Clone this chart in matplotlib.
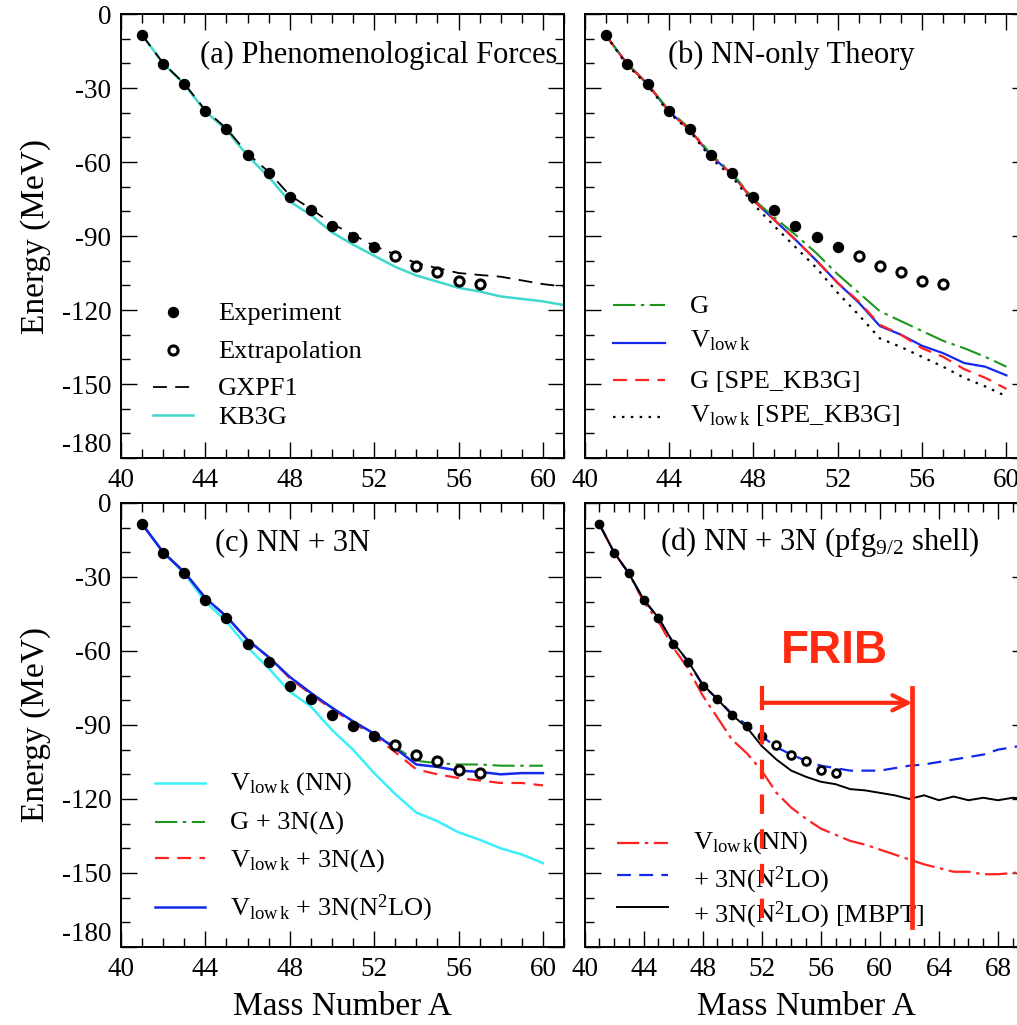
import numpy as np
import matplotlib
matplotlib.use("Agg")
import matplotlib.pyplot as plt
from matplotlib.ticker import MultipleLocator, FixedLocator

plt.rcParams.update({
    "font.family": "serif",
    "font.serif": ["Liberation Serif", "DejaVu Serif"],
    "mathtext.fontset": "custom",
    "mathtext.rm": "Liberation Serif",
    "mathtext.it": "Liberation Serif:italic",
    "mathtext.bf": "Liberation Serif:bold",
    "axes.unicode_minus": False,
    "lines.scale_dashes": False,
})

# ---------------- data ----------------
A_exp = np.arange(41, 53)
E_exp = [-8.5, -20.2, -28.4, -39.3, -46.6, -57.0, -64.4, -74.2, -79.5, -85.9, -90.3, -94.6]
A_extrap = np.arange(53, 58)
E_extrap = [-98.1, -102.2, -104.5, -108.1, -109.6]

# (a) phenomenological interactions
A_a = np.arange(41, 62)
E_gxpf1 = [-8.5, -20.0, -28.2, -39.0, -46.4, -56.6, -64.0, -73.5, -79.0, -85.0, -89.5,
           -94.0, -97.5, -101.0, -103.0, -105.0, -105.8, -106.5, -108.0, -109.5, -110.5]
E_kb3g = [-8.5, -20.0, -28.5, -39.5, -47.0, -57.5, -66.0, -76.0, -81.5, -88.5, -93.5,
          -98.0, -102.5, -106.0, -108.5, -111.0, -112.5, -114.5, -115.5, -116.5, -118.0]

# (b) NN-only theory
A_b = np.arange(41, 61)
E_G = [-8.5, -20.0, -28.5, -39.0, -46.5, -57.0, -64.5, -75.0, -82.5, -89.5,
       -97.0, -105.5, -113.0, -120.5, -124.5, -128.5, -132.5, -135.5, -139.0, -143.0]
E_vlowk = [-8.5, -20.0, -28.5, -39.5, -47.0, -57.5, -65.0, -75.5, -83.5, -91.5,
           -100.0, -109.0, -117.0, -126.5, -130.0, -134.5, -137.5, -141.5, -143.0, -146.5]
E_G_spe = [-8.5, -20.0, -28.5, -39.5, -47.0, -57.5, -65.0, -75.5, -83.5, -91.5,
           -100.0, -109.0, -116.5, -126.0, -130.0, -135.5, -139.0, -144.0, -147.5, -152.0]
E_vlowk_spe = [-8.5, -20.5, -29.0, -40.0, -47.5, -58.5, -66.0, -77.0, -86.0, -94.5,
               -103.0, -113.0, -122.0, -131.5, -135.0, -139.0, -143.0, -147.5, -151.0, -155.0]

# (c) NN + 3N
A_c = np.arange(41, 61)
E_c_nn = [-8.5, -20.0, -28.5, -40.0, -48.0, -58.5, -67.0, -76.5, -82.5, -92.0,
          -100.0, -109.5, -118.0, -125.5, -129.0, -133.5, -136.5, -140.0, -142.5, -146.0]
E_c_G3N = [-8.5, -20.0, -28.0, -38.5, -46.0, -55.5, -62.5, -70.5, -77.0, -83.0,
           -88.5, -93.5, -99.0, -104.5, -105.5, -106.0, -106.0, -106.5, -106.5, -106.5]
E_c_V3N_delta = [-8.5, -20.0, -28.0, -38.5, -46.0, -55.5, -62.5, -71.0, -77.5, -83.5,
                 -89.0, -94.5, -101.0, -108.0, -110.0, -111.5, -112.5, -113.5, -113.5, -114.5]
E_c_V3N_n2lo = [-8.5, -20.0, -28.0, -38.5, -46.0, -55.5, -62.5, -70.5, -77.0, -83.0,
                -88.5, -93.5, -99.5, -106.0, -107.0, -108.5, -109.0, -110.0, -109.5, -109.5]

# (d) NN + 3N in the extended pfg9/2 space
A_d = np.arange(41, 71)
E_d_nn = [-8.5, -20.0, -28.5, -40.0, -48.0, -58.5, -67.0, -78.0, -87.0, -96.0,
          -101.5, -108.5, -117.5, -123.5, -128.0, -132.0, -134.5, -137.0, -138.5, -140.5,
          -142.5, -144.5, -146.5, -148.0, -149.5, -149.5, -150.5, -150.5, -150.0, -149.5]
E_d_3n = [-8.5, -20.0, -28.5, -39.3, -46.5, -56.8, -64.2, -73.8, -79.5, -85.5,
          -90.0, -94.5, -99.0, -102.0, -104.5, -106.5, -107.5, -108.5, -108.5, -108.5,
          -107.5, -106.5, -106.0, -105.0, -104.0, -103.0, -102.0, -100.0, -99.0, -98.0]
E_d_mbpt = [-8.5, -20.0, -28.5, -39.0, -46.5, -56.5, -64.0, -73.5, -79.5, -86.0,
            -91.0, -98.5, -104.0, -108.5, -111.0, -113.0, -114.0, -116.0, -116.5, -117.5,
            -118.5, -120.0, -118.5, -120.5, -119.0, -120.5, -119.5, -120.5, -119.5, -120.0]

# FRIB reach (mass numbers) and bracket heights (MeV)
FRIB_A = (52, 62.2)
FRIB_Y_ARROW = -81
FRIB_Y_TOP = -75
FRIB_Y_DASH_TOP = -90
FRIB_Y_BOTTOM = -172

xticks = [40, 44, 48, 52, 56, 60]
xticks_d = [40, 44, 48, 52, 56, 60, 64, 68]
yticks = [0, -30, -60, -90, -120, -150, -180]

# ---------------- styles ----------------
TURQ = "#40d8cc"
CYAN = "#3cf0fa"
GREEN = "#1e961e"
BLUE = "#1428ee"
RED = "#ff2222"
FRIB_RED = "#ff2a10"
DASH = (0, (10, 6))
DASHDOT = (0, (16, 4, 2.5, 4))
DOT = (0, (1.8, 4.6))

W, H = 1017, 1025
AX_W, AX_H = 443, 444
fig = plt.figure(figsize=(W / 100, H / 100), dpi=100)

panels = {}


def add_panel(key, left, top):
    ax = fig.add_axes([left / W, 1 - (top + AX_H) / H, AX_W / W, AX_H / H])
    panels[key] = (ax, left, top)
    return ax


def to_axes(key, x, y):
    _, left, top = panels[key]
    return (x - left) / AX_W, 1 - (y - top) / AX_H


def style_axes(ax, xmax, ticks, ylabels):
    ax.set_xlim(40, xmax)
    ax.set_ylim(-180, 0)
    ax.xaxis.set_major_locator(FixedLocator(ticks))
    ax.xaxis.set_minor_locator(MultipleLocator(1))
    ax.yaxis.set_major_locator(FixedLocator(yticks))
    ax.yaxis.set_minor_locator(MultipleLocator(10))
    ax.tick_params(which="both", direction="in", top=True, right=True, width=1.0,
                   labelsize=19.5, pad=7)
    ax.tick_params(which="major", length=11.5)
    ax.tick_params(which="minor", length=6.5)
    for s in ax.spines.values():
        s.set_linewidth(1.4)
    ax.set_xticklabels([str(t) for t in ticks])
    if ylabels:
        ax.set_yticklabels([str(t) for t in yticks])
        ax.get_yticklabels()[-1].set_va("bottom")
        ax.set_ylabel("Energy (MeV)", fontsize=24, labelpad=8)
    else:
        ax.tick_params(labelleft=False)


def legend_line(key, x0, x1, y, **kw):
    ax = panels[key][0]
    (fx0, fy), (fx1, _) = to_axes(key, x0, y), to_axes(key, x1, y)
    ax.plot([fx0, fx1], [fy, fy], transform=ax.transAxes, clip_on=False, **kw)


def legend_marker(key, x, y, **kw):
    ax = panels[key][0]
    fx, fy = to_axes(key, x, y)
    ax.plot([fx], [fy], transform=ax.transAxes, clip_on=False, **kw)


def panel_text(key, x, y, s, size=19, **kw):
    ax = panels[key][0]
    fx, fy = to_axes(key, x, y)
    ax.text(fx, fy, s, transform=ax.transAxes, fontsize=size, ha="left",
            va="baseline", **kw)


VLK = r"V$_{\rm low\,k}$"
exp_kw = dict(ls="none", marker="o", color="black", ms=7.2, zorder=5)
ext_kw = dict(ls="none", marker="o", mfc="white", mec="black", mew=2.2, ms=6.6, zorder=5)

# ---------------- (a) ----------------
ax = add_panel("a", 121, 14)
ax.plot(A_a, E_gxpf1, color="black", lw=1.3, ls=DASH, zorder=3)
ax.plot(A_a, E_kb3g, color=TURQ, lw=1.8, zorder=2)
ax.plot(A_exp, E_exp, **exp_kw)
ax.plot(A_extrap, E_extrap, **ext_kw)
style_axes(ax, 61, xticks, True)
panel_text("a", 200, 63, "(a) Phenomenological Forces", size=22)
legend_marker("a", 173, 312, marker="o", color="black", ms=7.2)
legend_marker("a", 173, 350, marker="o", mfc="white", mec="black", mew=2.2, ms=6.6)
legend_line("a", 153, 193, 387, color="black", lw=1.3, ls=DASH)
legend_line("a", 153, 193, 415, color=TURQ, lw=1.8)
panel_text("a", 218, 320, "Experiment")
panel_text("a", 218, 358, "Extrapolation")
panel_text("a", 218, 395, "GXPF1")
panel_text("a", 218, 424, "KB3G")

# ---------------- (b) ----------------
ax = add_panel("b", 584.5, 14)
ax.plot(A_b, E_G, color=GREEN, lw=1.5, ls=DASHDOT, zorder=3)
ax.plot(A_b, E_vlowk, color=BLUE, lw=1.6, zorder=2)
ax.plot(A_b, E_G_spe, color=RED, lw=1.6, ls=DASH, zorder=3)
ax.plot(A_b, E_vlowk_spe, color="black", lw=1.6, ls=DOT, zorder=3)
ax.plot(A_exp, E_exp, **exp_kw)
ax.plot(A_extrap, E_extrap, **ext_kw)
style_axes(ax, 61, xticks, False)
panel_text("b", 668, 63, "(b) NN-only Theory", size=22)
legend_line("b", 613, 665, 305, color=GREEN, lw=1.5, ls=DASHDOT)
legend_line("b", 613, 665, 343, color=BLUE, lw=1.6)
legend_line("b", 613, 665, 380, color=RED, lw=1.6, ls=DASH)
legend_line("b", 613, 665, 417, color="black", lw=1.6, ls=DOT)
panel_text("b", 690, 313, "G")
panel_text("b", 690, 347, VLK)
panel_text("b", 690, 388, "G [SPE_KB3G]")
panel_text("b", 690, 422, VLK + " [SPE_KB3G]")

# ---------------- (c) ----------------
ax = add_panel("c", 121, 503)
ax.plot(A_c, E_c_nn, color=CYAN, lw=1.8, zorder=2)
ax.plot(A_c, E_c_G3N, color=GREEN, lw=1.5, ls=DASHDOT, zorder=3)
ax.plot(A_c, E_c_V3N_delta, color=RED, lw=1.6, ls=DASH, zorder=3)
ax.plot(A_c, E_c_V3N_n2lo, color=BLUE, lw=1.8, zorder=4)
ax.plot(A_exp, E_exp, **exp_kw)
ax.plot(A_extrap, E_extrap, **ext_kw)
style_axes(ax, 61, xticks, True)
ax.set_xlabel("Mass Number A", fontsize=24, labelpad=7)
panel_text("c", 215, 550, "(c) NN + 3N", size=22)
legend_line("c", 155, 205, 783, color=CYAN, lw=1.8)
legend_line("c", 155, 205, 822, color=GREEN, lw=1.5, ls=DASHDOT)
legend_line("c", 155, 205, 858, color=RED, lw=1.6, ls=DASH)
legend_line("c", 155, 205, 907, color=BLUE, lw=1.8)
panel_text("c", 230, 790, VLK + " (NN)")
panel_text("c", 230, 830, "G + 3N(Δ)")
panel_text("c", 230, 867, VLK + " + 3N(Δ)")
panel_text("c", 230, 915, VLK + r" + 3N(N$^2$LO)")

# ---------------- (d) ----------------
ax = add_panel("d", 584.5, 503)
ax.plot(A_d, E_d_nn, color=RED, lw=1.6, ls=DASHDOT, zorder=3)
ax.plot(A_d, E_d_3n, color=BLUE, lw=1.6, ls=DASH, zorder=3)
ax.plot(A_d, E_d_mbpt, color="black", lw=1.4, zorder=3)
ax.plot(A_exp, E_exp, ls="none", marker="o", color="black", ms=6.0, zorder=5)
ax.plot(A_extrap, E_extrap, ls="none", marker="o", mfc="white", mec="black",
        mew=2.0, ms=5.6, zorder=5)
style_axes(ax, 70, xticks_d, False)
ax.set_xlabel("Mass Number A", fontsize=24, labelpad=7)
panel_text("d", 660, 550, r"(d) NN + 3N (pfg$_{9/2}$ shell)", size=22)
legend_line("d", 617, 668, 843, color=RED, lw=1.6, ls=DASHDOT)
legend_line("d", 617, 668, 875, color=BLUE, lw=1.6, ls=DASH)
legend_line("d", 617, 668, 907, color="black", lw=1.4)
panel_text("d", 693, 849, VLK + "(NN)")
panel_text("d", 693, 887, r"+ 3N(N$^2$LO)")
panel_text("d", 693, 922, r"+ 3N(N$^2$LO) [MBPT]")

# FRIB reach bracket
a0, a1 = FRIB_A
ax.plot([a0, a0], [FRIB_Y_DASH_TOP, FRIB_Y_BOTTOM], color=FRIB_RED, lw=3.0,
        ls=(0, (14, 11)), zorder=8, solid_capstyle="butt", dash_capstyle="butt")
ax.plot([a1, a1], [FRIB_Y_TOP, FRIB_Y_BOTTOM], color=FRIB_RED, lw=3.4, zorder=8)
ax.plot([a0, a0], [FRIB_Y_TOP, FRIB_Y_TOP - 8], color=FRIB_RED, lw=3.0, zorder=8)
ax.annotate("", xy=(a1, FRIB_Y_ARROW), xytext=(a0, FRIB_Y_ARROW),
            arrowprops=dict(arrowstyle="->,head_length=1.1,head_width=0.55",
                            color=FRIB_RED, lw=3.0, shrinkA=0, shrinkB=0),
            zorder=8)
ax.text((a0 + a1) / 2 - 0.2, -60, "FRIB", color=FRIB_RED, fontsize=33,
        fontweight="bold", family="Liberation Sans", ha="center", va="center",
        zorder=8)

fig.savefig("out.png", dpi=100)
